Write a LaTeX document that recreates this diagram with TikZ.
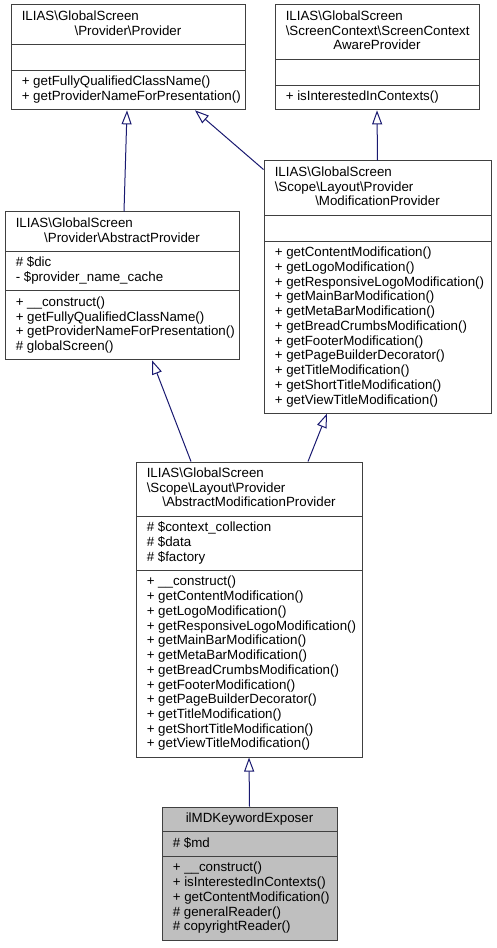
\documentclass[tikz,border=0pt]{standalone}
\usepackage{fontspec}
\setmainfont{Liberation Sans}
\usetikzlibrary{arrows.meta,fit}
\definecolor{edgeblue}{HTML}{191970}
\definecolor{boxline}{HTML}{404040}
\definecolor{boxgray}{HTML}{BFBFBF}
\newcommand{\fst}{\rule{0pt}{9pt}}
\newcommand{\bs}{\textbackslash}
\begin{document}
\begin{tikzpicture}[x=0.75pt,y=-0.75pt,
	cls/.style={draw=boxline,line width=0.75pt,fill=white,inner sep=0pt},
	sep/.style={draw=boxline,line width=0.75pt},
	ttl/.style={font=\fontsize{10}{11.05}\selectfont,inner sep=0pt,anchor=base west},
	ctr/.style={font=\fontsize{10}{11.05}\selectfont,inner sep=0pt,anchor=base},
	lst/.style={font=\fontsize{10}{11.05}\selectfont,inner sep=0pt,align=left,anchor=north west},
	isa/.style={draw=edgeblue,line width=0.75pt,-{Triangle[open,length=10.5pt,width=7.5pt]}}]
	\useasboundingbox (0,0) rectangle (496,948);
	% Provider
	\node[cls,fit={(11,5) (245,109.86)}] (prov) {};
	\draw[sep] (11,44.43)--(245,44.43) (11,70.43)--(245,70.43);
	\node[ttl] (prov-t1) at (21.5,20.3) {ILIAS\bs GlobalScreen};
	\node[ctr] (prov-t2) at (128,35.03) {\bs Provider\bs Provider};
	\node[lst] (prov-m) at (21.5,73.73) {\fst+ getFullyQualifiedClassName()\\+ getProviderNameForPresentation()};
	% ScreenContextAwareProvider
	\node[cls,fit={(275,5) (479,109.86)}] (sca) {};
	\draw[sep] (275,59.16)--(479,59.16) (275,85.16)--(479,85.16);
	\node[ttl] (sca-t1) at (285.5,20.3) {ILIAS\bs GlobalScreen};
	\node[ttl] (sca-t2) at (285.5,35.03) {\bs ScreenContext\bs ScreenContext};
	\node[ctr] (sca-t3) at (377,49.76) {AwareProvider};
	\node[lst] (sca-m) at (285.5,88.46) {\fst+ isInterestedInContexts()};
	% AbstractProvider
	\node[cls,fit={(5,212) (239,359.75)}] (aprov) {};
	\draw[sep] (5,251.43)--(239,251.43) (5,290.86)--(239,290.86);
	\node[ttl] (aprov-t1) at (15.5,227.3) {ILIAS\bs GlobalScreen};
	\node[ctr] (aprov-t2) at (122,242.03) {\bs Provider\bs AbstractProvider};
	\node[lst] (aprov-a) at (15.5,254.73) {\fst\# \$dic\\- \$provider\_name\_cache};
	\node[lst] (aprov-m) at (15.5,294.16) {\fst+ \_\_construct()\\+ getFullyQualifiedClassName()\\+ getProviderNameForPresentation()\\\# globalScreen()};
	% ModificationProvider
	\node[cls,fit={(264,161) (491,413.16)}] (mprov) {};
	\draw[sep] (264,215.16)--(491,215.16) (264,241.16)--(491,241.16);
	\node[ttl] (mprov-t1) at (274.5,176.3) {ILIAS\bs GlobalScreen};
	\node[ttl] (mprov-t2) at (274.5,191.03) {\bs Scope\bs Layout\bs Provider};
	\node[ctr] (mprov-t3) at (377.5,205.76) {\bs ModificationProvider};
	\node[lst] (mprov-m) at (274.5,244.46) {\fst+ getContentModification()\\+ getLogoModification()\\+ getResponsiveLogoModification()\\+ getMainBarModification()\\+ getMetaBarModification()\\+ getBreadCrumbsModification()\\+ getFooterModification()\\+ getPageBuilderDecorator()\\+ getTitleModification()\\+ getShortTitleModification()\\+ getViewTitleModification()};
	% AbstractModificationProvider
	\node[cls,fit={(136,462) (362,757.05)}] (amp) {};
	\draw[sep] (136,516.16)--(362,516.16) (136,570.32)--(362,570.32);
	\node[ttl] (amp-t1) at (146.5,477.3) {ILIAS\bs GlobalScreen};
	\node[ttl] (amp-t2) at (146.5,492.03) {\bs Scope\bs Layout\bs Provider};
	\node[ctr] (amp-t3) at (249,506.76) {\bs AbstractModificationProvider};
	\node[lst] (amp-a) at (146.5,519.46) {\fst\# \$context\_collection\\\# \$data\\\# \$factory};
	\node[lst] (amp-m) at (146.5,573.62) {\fst+ \_\_construct()\\+ getContentModification()\\+ getLogoModification()\\+ getResponsiveLogoModification()\\+ getMainBarModification()\\+ getMetaBarModification()\\+ getBreadCrumbsModification()\\+ getFooterModification()\\+ getPageBuilderDecorator()\\+ getTitleModification()\\+ getShortTitleModification()\\+ getViewTitleModification()};
	% ilMDKeywordExposer
	\node[cls,fill=boxgray,fit={(162,807) (337,940.02)}] (ilmd) {};
	\draw[sep] (162,831.7)--(337,831.7) (162,856.4)--(337,856.4);
	\node[ctr] (ilmd-t1) at (249.5,822.3) {ilMDKeywordExposer};
	\node[lst] (ilmd-a) at (172.5,835) {\fst\# \$md};
	\node[lst] (ilmd-m) at (172.5,859.7) {\fst+ \_\_construct()\\+ isInterestedInContexts()\\+ getContentModification()\\\# generalReader()\\\# copyrightReader()};
	% inheritance
	\draw[isa] ([xshift=1.5pt]aprov.north)--([xshift=-0.75pt]prov.south);
	\draw[isa] ([yshift=-6.75pt]mprov.north west)--([xshift=50.25pt]prov.south);
	\draw[isa] (mprov.north)--(sca.south);
	\draw[isa] ([xshift=-43.5pt]amp.north)--([xshift=22.5pt]aprov.south);
	\draw[isa] ([xshift=44.25pt]amp.north)--([xshift=-37.9pt]mprov.south);
	\draw[isa] (ilmd.north)--(amp.south);
\end{tikzpicture}
\end{document}
